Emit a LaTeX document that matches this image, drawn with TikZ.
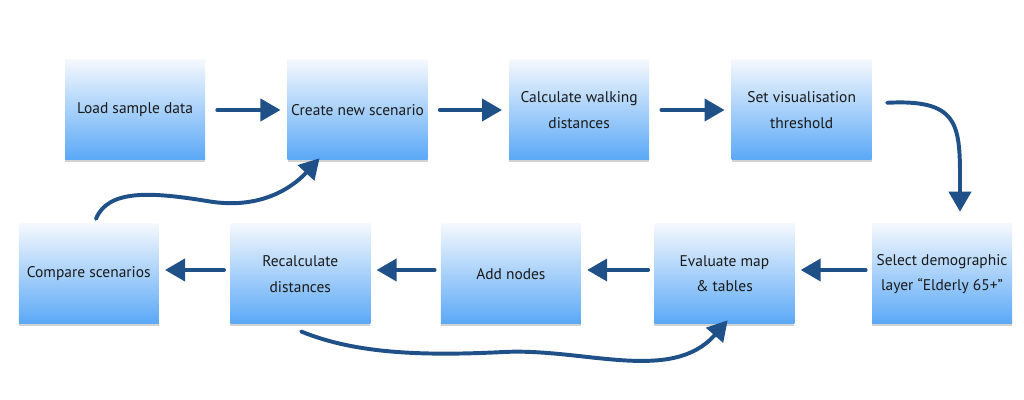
\documentclass[tikz,border=0pt]{standalone}
\usepackage{fontspec}
\setmainfont{PT Sans}
\usepackage{tikz}
\usetikzlibrary{positioning, arrows.meta, shadows, backgrounds}

\definecolor{boxtop}{HTML}{F4F8FD}
\definecolor{boxbot}{HTML}{5AA8F7}
\definecolor{arrblue}{HTML}{1F5088}
\definecolor{txt}{HTML}{1A1A1A}

\begin{document}
\begin{tikzpicture}[
  font=\fontsize{11}{18}\selectfont,
  stepbox/.style={rectangle, top color=boxtop, bottom color=boxbot, minimum width=3.5cm, minimum height=2.5cm, align=center, text=txt, inner xsep=0pt, inner ysep=2pt,
    drop shadow={shadow xshift=0pt, shadow yshift=-1.2pt, opacity=0.35}},
  reflect/.style={top color=boxbot!15, bottom color=white},
  arr/.style={draw=arrblue, line width=2.8pt, line cap=round, -{Triangle[length=5mm, width=5.5mm]}}
]
\fill[white] (0,0) rectangle (25.6,10);
\useasboundingbox (0,0) rectangle (25.6,10);

% top row
\node[stepbox] (load) at (3.375,7.25) {Load sample data};
\node[stepbox, right=2.05cm of load] (create) {Create new scenario};
\node[stepbox, right=2.025cm of create] (calc) {Calculate walking\\distances};
\node[stepbox, right=2.05cm of calc] (thresh) {Set visualisation\\threshold};

% bottom row
\node[stepbox] (select) at (23.55,3.15) {Select demographic\\layer “Elderly 65+”};
\node[stepbox, left=1.925cm of select] (evaluate) {Evaluate map\\\& tables};
\node[stepbox, left=1.825cm of evaluate] (addn) {Add nodes};
\node[stepbox, left=1.75cm of addn] (recalc) {Recalculate\\distances};
\node[stepbox, left=1.775cm of recalc] (compare) {Compare scenarios};

% reflections under the boxes
\begin{scope}[on background layer]
\foreach \n in {load,create,calc,thresh,select,evaluate,addn,recalc,compare}
  \fill[reflect] ([yshift=-0.12cm]\n.south west) rectangle ([yshift=-0.85cm]\n.south east);
\end{scope}

% straight arrows
\draw[arr, shorten <=0.3cm, shorten >=0.17cm] (load) -- (create);
\draw[arr, shorten <=0.3cm, shorten >=0.17cm] (create) -- (calc);
\draw[arr, shorten <=0.3cm, shorten >=0.17cm] (calc) -- (thresh);
\foreach \a/\b in {select/evaluate, evaluate/addn, addn/recalc, recalc/compare}
  \draw[arr, shorten <=0.15cm, shorten >=0.15cm] ([yshift=0.1cm]\a.west) -- ([yshift=0.1cm]\b.east);

% curved arrows
\draw[arr] ([xshift=0.38cm,yshift=0.18cm]thresh.east) .. controls +(1.9,0.1) and +(0,2.1) .. ([xshift=0.45cm,yshift=0.3cm]select.north);
\draw[arr] ([xshift=0.18cm,yshift=0.12cm]compare.north) .. controls +(0.3,0.75) and (3.8,5.2) .. (5.2,4.97)
  .. controls (6.5,4.75) and (7.3,5.3) .. ([xshift=-0.95cm,yshift=0.05cm]create.south);
\draw[arr] ([xshift=0.02cm,yshift=-0.18cm]recalc.south) .. controls (8.9,1.15) and (10.6,1.1) .. (12.6,1.2)
  .. controls (14.6,1.3) and (16.8,0.4) .. ([xshift=0.08cm,yshift=0.1cm]evaluate.south);
\end{tikzpicture}
\end{document}
